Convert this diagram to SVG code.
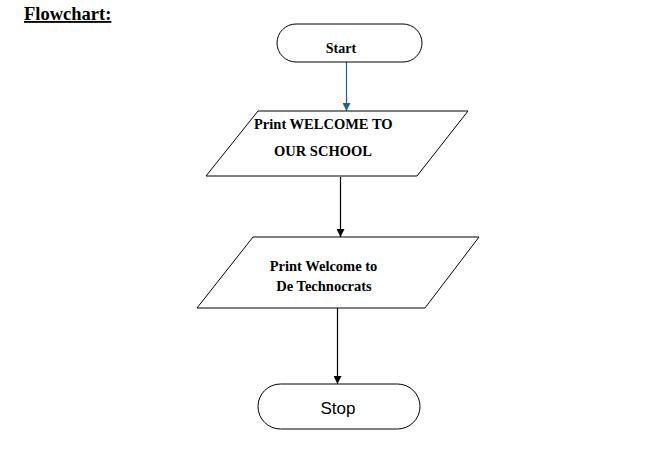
<svg xmlns="http://www.w3.org/2000/svg" width="658" height="467" viewBox="0 0 658 467">
<style>
.shape{fill:#fff;stroke:#000;stroke-width:1}
.t{font-family:"Liberation Serif","Times New Roman",serif;font-weight:bold;font-size:14.5px;fill:#000}
.s{font-family:"Liberation Sans",Arial,sans-serif;font-size:17px;fill:#000}
.c{stroke:#000;stroke-width:1.2;fill:none}
</style>
<defs>
<marker id="ah" viewBox="0 0 10 10" refX="10" refY="5" markerWidth="8" markerHeight="8" markerUnits="userSpaceOnUse" orient="auto"><path d="M0,0 L10,5 L0,10 Z" fill="#000"/></marker>
<marker id="ahb" viewBox="0 0 10 10" refX="10" refY="5" markerWidth="8" markerHeight="8" markerUnits="userSpaceOnUse" orient="auto"><path d="M0,0 L10,5 L0,10 Z" fill="#1f6391"/></marker>
</defs>
<rect width="658" height="467" fill="#fff"/>
<text x="24" y="20" class="t" style="font-size:18.5px" text-decoration="underline">Flowchart:</text>
<g id="connectors">
<line x1="346.5" y1="62" x2="346.5" y2="111" stroke="#1f6391" stroke-width="1.2" marker-end="url(#ahb)"/>
<line x1="340.5" y1="177" x2="340.5" y2="237" class="c" marker-end="url(#ah)"/>
<line x1="337.5" y1="308" x2="337.5" y2="384" class="c" marker-end="url(#ah)"/>
</g>
<g id="start">
<rect x="277" y="24" width="145" height="38" rx="19" class="shape"/>
<text x="341" y="53" class="t" style="font-size:14px" text-anchor="middle">Start</text>
</g>
<g id="print1">
<polygon points="258,111 468,111 417,176 206,176" class="shape"/>
<text x="254" y="129" class="t">Print WELCOME TO</text>
<text x="274" y="156" class="t">OUR SCHOOL</text>
</g>
<g id="print2">
<polygon points="253,237 479,237 425,308 197,308" class="shape"/>
<text x="323.5" y="271" class="t" text-anchor="middle">Print Welcome to</text>
<text x="324" y="291" class="t" text-anchor="middle">De Technocrats</text>
</g>
<g id="stop">
<rect x="258" y="384" width="162" height="45" rx="22.5" class="shape"/>
<text x="338" y="414" class="s" text-anchor="middle">Stop</text>
</g>
</svg>
